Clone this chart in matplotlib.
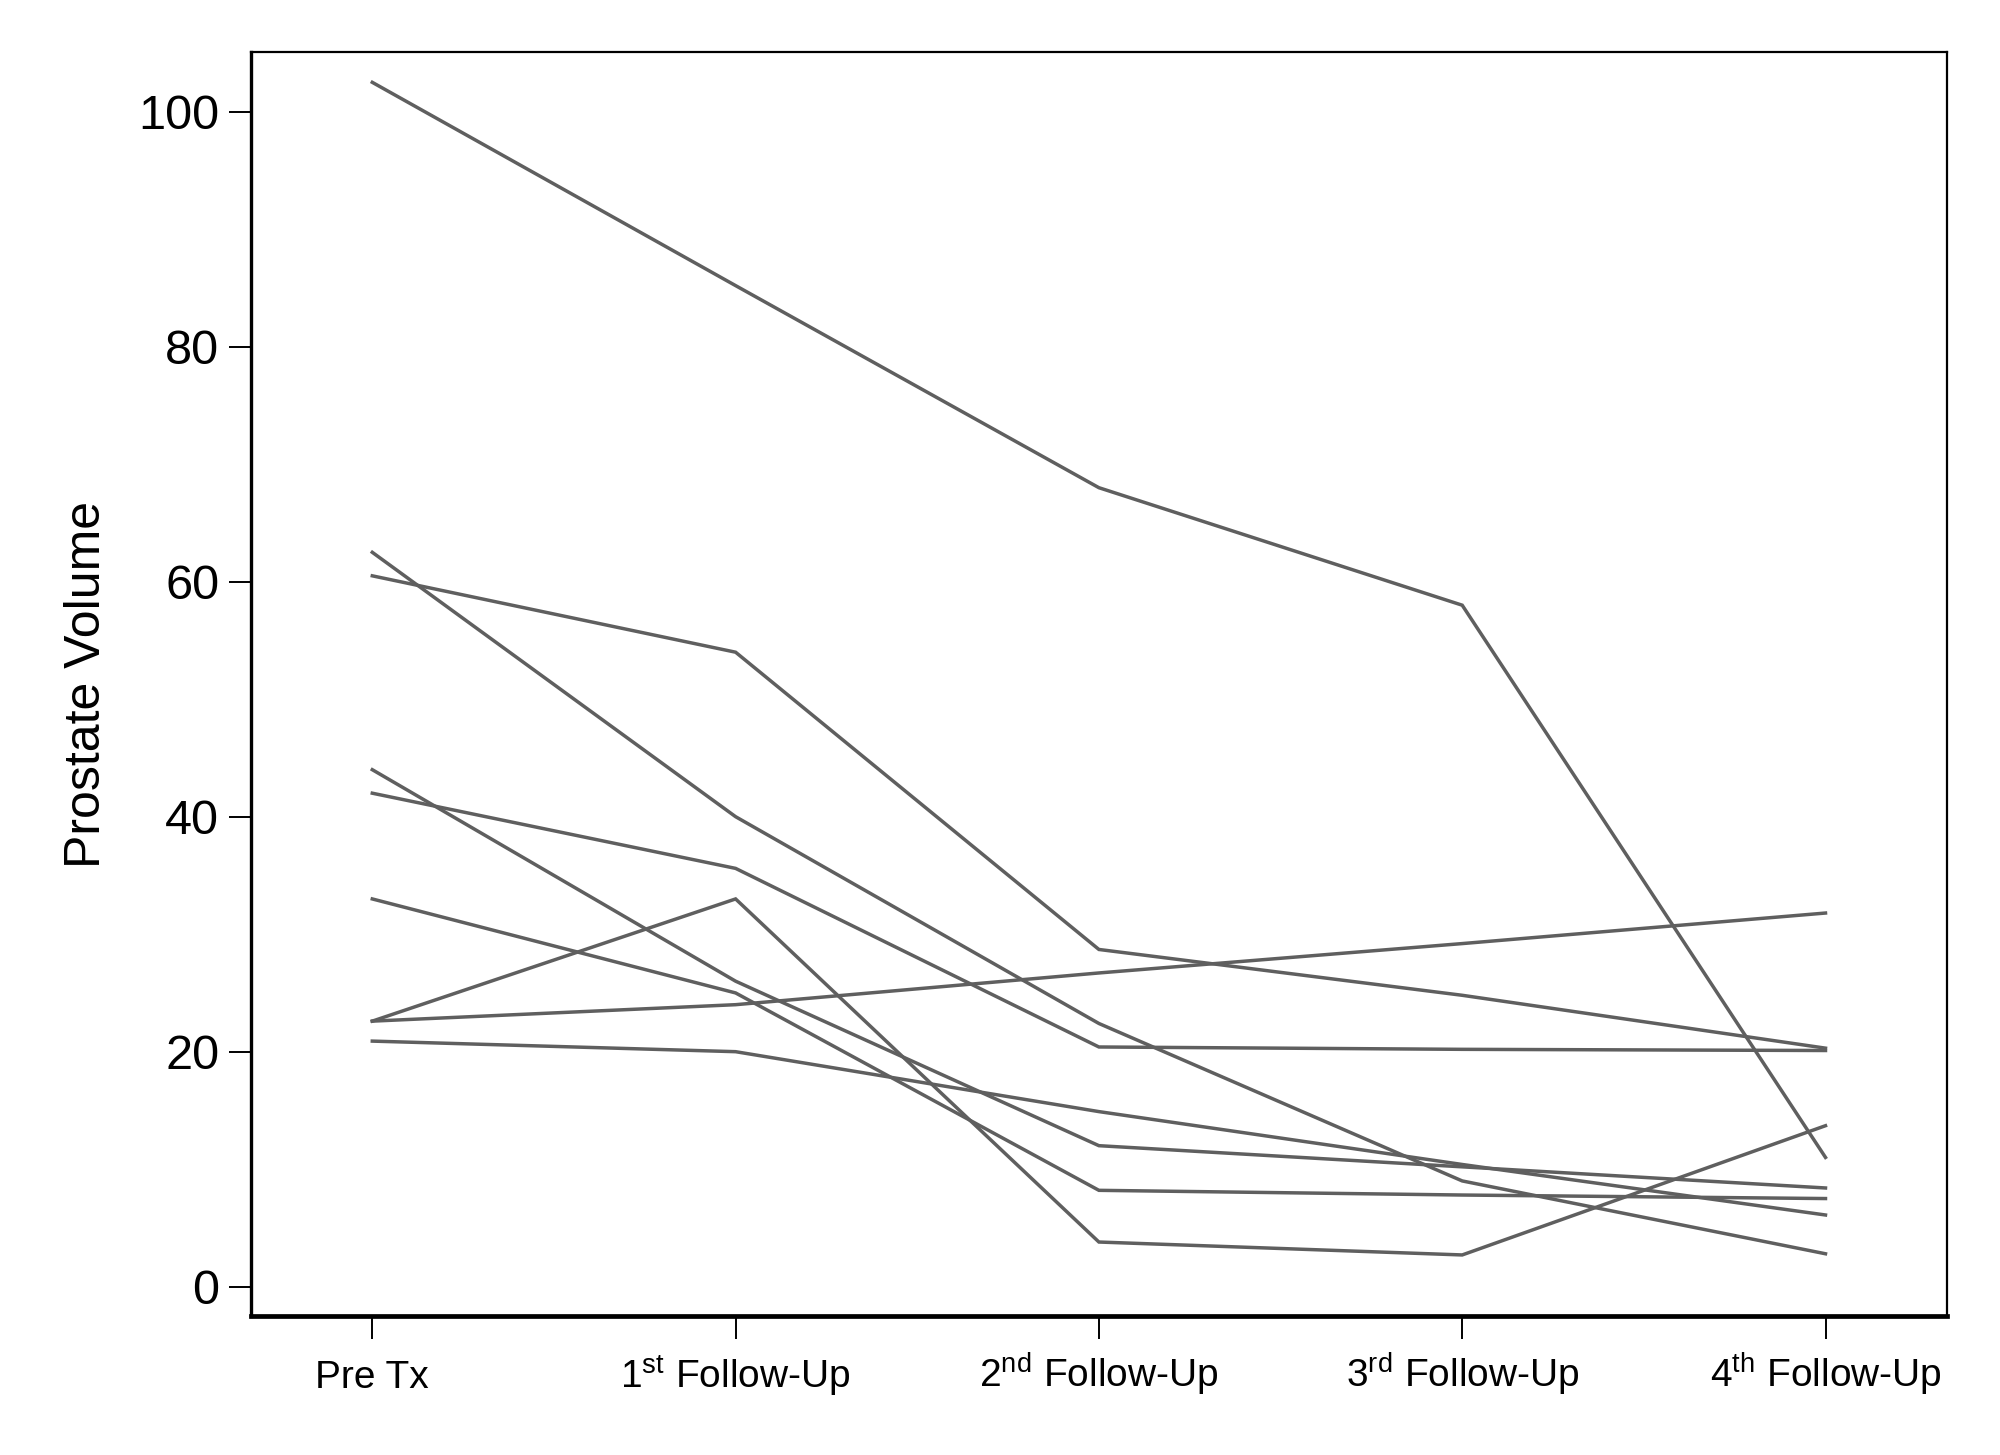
import matplotlib
matplotlib.use("Agg")
import matplotlib.pyplot as plt

plt.rcParams['font.family'] = ['Liberation Sans', 'DejaVu Sans']
plt.rcParams['mathtext.fontset'] = 'custom'
plt.rcParams['mathtext.rm'] = 'Liberation Sans'
plt.rcParams['mathtext.it'] = 'Liberation Sans'

categories = ["Pre Tx", r"1$^{\rm st}$ Follow-Up", r"2$^{\rm nd}$ Follow-Up",
              r"3$^{\rm rd}$ Follow-Up", r"4$^{\rm th}$ Follow-Up"]

patient_1 = [102.5, 85.2, 68.0, 58.0, 11.0]
patient_2 = [62.5, 40.0, 22.4, 9.0, 2.8]
patient_3 = [60.5, 54.0, 28.7, 24.8, 20.3]
patient_4 = [44.0, 26.0, 12.0, 10.2, 8.4]
patient_5 = [42.0, 35.6, 20.4, 20.2, 20.1]
patient_6 = [33.0, 25.0, 8.2, 7.8, 7.5]
patient_7 = [22.6, 33.0, 3.8, 2.7, 13.7]
patient_8 = [22.6, 24.0, 26.7, 29.2, 31.8]
patient_9 = [20.9, 20.0, 14.9, 10.4, 6.1]

series = [patient_1, patient_2, patient_3, patient_4, patient_5,
          patient_6, patient_7, patient_8, patient_9]
yticks = [0, 20, 40, 60, 80, 100]

fig = plt.figure(figsize=(20, 14.55), dpi=100)
ax = fig.add_axes([0.1256, 0.0955, 0.9733 - 0.1256, 0.964 - 0.0955])

x = list(range(len(categories)))
for s in series:
    ax.plot(x, s, color='#5f5f5f', linewidth=2.5, solid_joinstyle='miter')

ax.set_xlim(-1/3, 4 + 1/3)
ax.set_ylim(-2.5, 105.05)
ax.set_xticks(x)
ax.set_xticklabels(categories, fontsize=28)
ax.set_yticks(yticks)
ax.set_yticklabels([str(v) for v in yticks], fontsize=35)

for lab in ax.get_xticklabels():
    lab.set_verticalalignment('baseline')

ax.tick_params(axis='x', direction='out', length=16.5, width=1.4, pad=35, colors='black')
ax.tick_params(axis='y', direction='out', length=16, width=1.4, pad=7, colors='black')

ax.spines['left'].set_linewidth(2.4)
ax.spines['bottom'].set_linewidth(3.4)
ax.spines['top'].set_linewidth(1.6)
ax.spines['right'].set_linewidth(1.6)

ax.set_ylabel("Prostate Volume", fontsize=36)
ax.yaxis.set_label_coords(-0.083, 0.5)

fig.savefig("out.png", dpi=100, facecolor='white')
